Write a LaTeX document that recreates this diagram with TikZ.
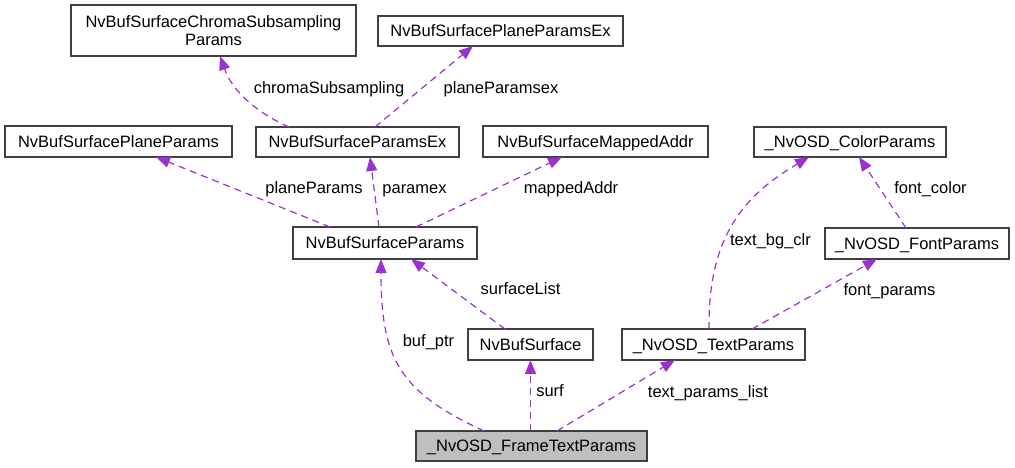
\documentclass[tikz,border=0pt]{standalone}
\usepackage{fontspec}
\setmainfont{Liberation Sans}
\usetikzlibrary{arrows.meta}
\definecolor{edgec}{HTML}{9A32CD}
\definecolor{boxc}{HTML}{404040}
\definecolor{fillc}{HTML}{BFBFBF}
\begin{document}
\begin{tikzpicture}[x=1pt,y=-1pt,
  font=\fontsize{16.5}{18}\selectfont,
  cls/.style={draw=boxc,line width=1.3pt,fill=white,inner sep=0pt,text height=11.5pt,text depth=0pt,anchor=center},
  lbl/.style={inner sep=0pt,anchor=base,text=black},
  rel/.style={draw=edgec,line width=1.2pt,dash pattern=on 7pt off 5pt,-{Triangle[length=14pt,width=11pt,fill=edgec]}}
]
\useasboundingbox (0,0) rectangle (1015,467);
% boxes
\node[cls,minimum width=285pt,minimum height=51pt,align=center,text height=,text depth=] (chroma) at (213.5,30.5) {NvBufSurfaceChromaSubsampling\\Params};
\node[cls,minimum width=245pt,minimum height=30pt] (pex) at (500.5,31) {NvBufSurfacePlaneParamsEx};
\node[cls,minimum width=227pt,minimum height=31pt] (pp) at (118.5,141.5) {NvBufSurfacePlaneParams};
\node[cls,minimum width=203pt,minimum height=30pt] (psx) at (357.5,142) {NvBufSurfaceParamsEx};
\node[cls,minimum width=225pt,minimum height=31pt] (map) at (595.5,141.5) {NvBufSurfaceMappedAddr};
\node[cls,minimum width=192pt,minimum height=30pt] (col) at (850,142) {\_NvOSD\_ColorParams};
\node[cls,minimum width=184pt,minimum height=32pt] (nbsp) at (385,243) {NvBufSurfaceParams};
\node[cls,minimum width=184pt,minimum height=31pt] (font) at (917,243.5) {\_NvOSD\_FontParams};
\node[cls,minimum width=125pt,minimum height=31pt] (surf) at (530.5,344.5) {NvBufSurface};
\node[cls,minimum width=183pt,minimum height=31pt] (txt) at (713.5,344.5) {\_NvOSD\_TextParams};
\node[cls,fill=fillc,minimum width=231pt,minimum height=30pt] (frame) at (531.5,446) {\_NvOSD\_FrameTextParams};
% edge end points
\coordinate (a1) at (289,127); \coordinate (b1) at (220,56);
\coordinate (a2) at (375,127); \coordinate (b2) at (473,46);
\coordinate (a3) at (330,227); \coordinate (b3) at (156,157);
\coordinate (a4) at (379,227); \coordinate (b4) at (370,157);
\coordinate (a5) at (416,227); \coordinate (b5) at (562,157);
\coordinate (a6) at (709,329); \coordinate (b6) at (809,157);
\coordinate (a7) at (906,228); \coordinate (b7) at (859,157);
\coordinate (a8) at (752,329); \coordinate (b8) at (877,259);
\coordinate (a9) at (505,329); \coordinate (b9) at (411,259);
\coordinate (a10) at (484,431); \coordinate (b10) at (381,259);
\coordinate (a11) at (530.5,431); \coordinate (b11) at (530.5,360);
\coordinate (a12) at (557,431); \coordinate (b12) at (675,360);
% edges
\draw[rel] (a1) .. controls (255,112) and (232,90) .. (b1);
\draw[rel] (a2) -- (b2);
\draw[rel] (a3) -- (b3);
\draw[rel] (a4) -- (b4);
\draw[rel] (a5) -- (b5);
\draw[rel] (a6) .. controls (708,235) and (745,195) .. (b6);
\draw[rel] (a7) -- (b7);
\draw[rel] (a8) -- (b8);
\draw[rel] (a9) -- (b9);
\draw[rel] (a10) .. controls (400,392) and (381,360) .. (b10);
\draw[rel] (a11) -- (b11);
\draw[rel] (a12) -- (b12);
% labels
\node[lbl] (l1) at (329,93) {chromaSubsampling};
\node[lbl] (l2) at (501,93) {planeParamsex};
\node[lbl] (l3) at (314,193) {planeParams};
\node[lbl] (l4) at (414.5,193) {paramex};
\node[lbl] (l5) at (571,193) {mappedAddr};
\node[lbl] (l6) at (930.5,193) {font\_color};
\node[lbl] (l7) at (770.5,245) {text\_bg\_clr};
\node[lbl] (l8) at (889.5,295) {font\_params};
\node[lbl] (l9) at (520.5,294) {surfaceList};
\node[lbl] (l10) at (428.5,346) {buf\_ptr};
\node[lbl] (l11) at (550,396) {surf};
\node[lbl] (l12) at (708,397) {text\_params\_list};
\end{tikzpicture}
\end{document}
